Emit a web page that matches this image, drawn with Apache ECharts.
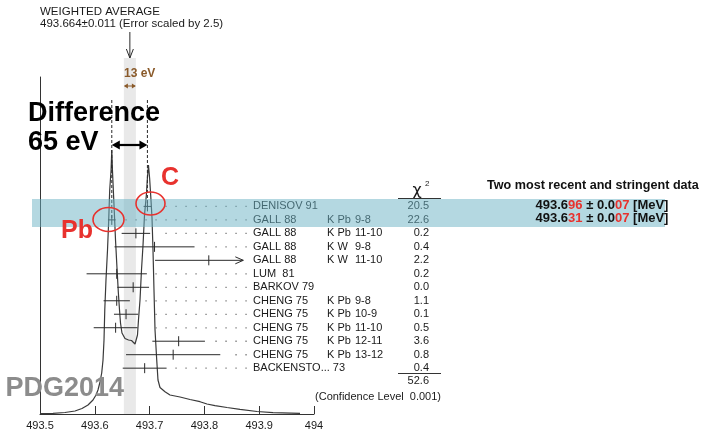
<!DOCTYPE html>
<html><head><meta charset="utf-8">
<script src="https://cdn.jsdelivr.net/npm/echarts@6/dist/echarts.min.js"></script>
<style>html,body{margin:0;padding:0;background:#fff}#c{width:701px;height:432px}</style>
</head><body><div id="c"></div>
<script>
// ---------- data ----------
const names = ['DENISOV 91','GALL 88','GALL 88','GALL 88','GALL 88','LUM  81','BARKOV 79','CHENG 75','CHENG 75','CHENG 75','CHENG 75','CHENG 75','BACKENSTO... 73'];
const targets = ['','K Pb','K Pb','K W','K W','','','K Pb','K Pb','K Pb','K Pb','K Pb',''];
const transitions = ['','9-8','11-10','9-8','11-10','','','9-8','10-9','11-10','12-11','13-12',''];
const values = [493.696, 493.631, 493.675, 493.709, 493.808, 493.640, 493.670, 493.640, 493.657, 493.638, 493.753, 493.743, 493.691];
const errors = [0.007, 0.007, 0.026, 0.073, 0.098, 0.055, 0.029, 0.024, 0.022, 0.040, 0.048, 0.086, 0.040];
const arrowTo = [null, null, null, null, 493.871, null, null, null, null, null, null, null, null];
const chi2 = ['20.5','22.6','0.2','0.4','2.2','0.2','0.0','1.1','0.1','0.5','3.6','0.8','0.4'];
const chi2Total = '52.6';
const confidenceLevel = '0.001';
const stringent = [0, 1];
const weightedAvg = 493.664;
const weightedErr = 0.011;
const xTickLabels = ['493.5','493.6','493.7','493.8','493.9','494'];
// ideogram curve (mass in MeV, relative density)
const ideoMass = [493.5000,493.5237,493.5456,493.5639,493.5766,493.5876,493.5967,493.6022,493.6058,493.6095,493.6126,493.6150,493.6168,493.6182,493.6204,493.6232,493.6254,493.6272,493.6297,493.6310,493.6322,493.6338,493.6356,493.6378,493.6405,493.6429,493.6451,493.6469,493.6496,493.6551,493.6615,493.6670,493.6706,493.6734,493.6752,493.6766,493.6779,493.6797,493.6825,493.6852,493.6880,493.6907,493.6941,493.6960,493.6979,493.7000,493.7022,493.7044,493.7062,493.7080,493.7099,493.7130,493.7153,493.7190,493.7281,493.7372,493.7555,493.7737,493.7920,493.8047,493.8193,493.8412,493.8650,493.8960,493.9252,493.9745];
const ideoDensity = [0.12,0.21,0.45,0.89,1.63,2.67,4.15,5.64,7.12,9.50,12.17,16.02,21.96,30.86,39.76,48.66,57.57,66.47,72.40,78.34,72.40,66.47,59.94,51.63,43.32,36.20,30.86,27.00,24.04,22.40,21.96,21.81,21.36,20.77,20.47,21.07,23.44,27.89,33.83,42.73,50.15,59.05,64.99,70.03,73.89,70.03,64.39,58.16,48.66,36.80,24.93,16.02,10.09,7.86,6.62,5.64,5.04,4.30,3.65,2.97,2.46,1.93,1.39,0.74,0.39,0.21,0.09];
</script>
<script>
const FONT = "'Liberation Sans', Arial, Helvetica, sans-serif";
const NAME_X = 253, TARGET_X = 327, TRANS_X = 355, CHI_X = 429, LEADER_END = 246, DASH_TOP = 100;
const INK = '#2a2a2a';

function rowItem(params, api) {
  const i = params.dataIndex;
  const p = api.coord([values[i], i]);
  const y = p[1];
  const lo = api.coord([values[i] - errors[i], i])[0];
  const hiTrue = api.coord([values[i] + errors[i], i])[0];
  const hi = arrowTo[i] != null ? api.coord([arrowTo[i], i])[0] : hiTrue;
  const ls = { stroke: INK, lineWidth: 1 };
  const ch = [];
  ch.push({ type: 'line', shape: { x1: lo, y1: y, x2: hi, y2: y }, style: ls });
  ch.push({ type: 'line', shape: { x1: p[0], y1: y - 5, x2: p[0], y2: y + 5 }, style: ls });
  if (arrowTo[i] != null) {
    ch.push({ type: 'polyline', shape: { points: [[hi - 8, y - 3.5], [hi, y], [hi - 8, y + 3.5]] }, style: { stroke: INK, fill: 'none', lineWidth: 1 } });
  } else {
    for (let x = LEADER_END; x > hiTrue + 9; x -= 10) {
      ch.push({ type: 'rect', shape: { x: x - 0.6, y: y - 0.6, width: 1.3, height: 1.3 }, style: { fill: '#777' } });
    }
  }
  if (stringent.indexOf(i) >= 0) {
    ch.push({ type: 'line', shape: { x1: p[0], y1: DASH_TOP, x2: p[0], y2: y }, style: { stroke: INK, lineWidth: 1, lineDash: [3, 2] } });
  }
  const txt = (t, x, align) => ({ type: 'text', style: { text: t, x: x, y: y, fill: '#1a1a1a', font: '11px ' + FONT, textAlign: align, align: align, textVerticalAlign: 'middle', verticalAlign: 'middle' } });
  ch.push(txt(names[i], NAME_X, 'left'));
  if (targets[i]) ch.push(txt(targets[i], TARGET_X, 'left'));
  if (transitions[i]) ch.push(txt(transitions[i], TRANS_X, 'left'));
  ch.push(txt(chi2[i], CHI_X, 'right'));
  return { type: 'group', children: ch };
}

function annotItem(params, api) {
  const a = api.coord([weightedAvg - weightedErr, 0]);
  const b = api.coord([weightedAvg + weightedErr, 0]);
  const c = api.coord([weightedAvg, 0]);
  const ch = [];
  ch.push({ type: 'rect', shape: { x: a[0], y: 58, width: b[0] - a[0], height: a[1] - 58 }, style: { fill: '#e9e9e9' } });
  ch.push({ type: 'line', shape: { x1: c[0], y1: 32, x2: c[0], y2: 58 }, style: { stroke: INK, lineWidth: 1 } });
  ch.push({ type: 'polyline', shape: { points: [[c[0] - 3.5, 49], [c[0], 58], [c[0] + 3.5, 49]] }, style: { stroke: INK, fill: 'none', lineWidth: 1 } });
  const brown = '#8a5a2a';
  ch.push({ type: 'line', shape: { x1: a[0] + 1, y1: 86, x2: b[0] - 1, y2: 86 }, style: { stroke: brown, lineWidth: 1 } });
  ch.push({ type: 'polygon', shape: { points: [[a[0], 86], [a[0] + 4, 83.5], [a[0] + 4, 88.5]] }, style: { fill: brown } });
  ch.push({ type: 'polygon', shape: { points: [[b[0], 86], [b[0] - 4, 83.5], [b[0] - 4, 88.5]] }, style: { fill: brown } });
  const p1 = api.coord([values[1], 0])[0];
  const p0 = api.coord([values[0], 0])[0];
  ch.push({ type: 'line', shape: { x1: p1 + 4, y1: 145, x2: p0 - 4, y2: 145 }, style: { stroke: '#000', lineWidth: 2.2 } });
  ch.push({ type: 'polygon', shape: { points: [[p1, 145], [p1 + 8, 140.5], [p1 + 8, 149.5]] }, style: { fill: '#000' } });
  ch.push({ type: 'polygon', shape: { points: [[p0, 145], [p0 - 8, 140.5], [p0 - 8, 149.5]] }, style: { fill: '#000' } });
  return { type: 'group', children: ch };
}

const chart = echarts.init(document.getElementById('c'));
const T = (text, x, y, font, fill, align, z) => ({
  type: 'text', z: z || 20,
  style: { text: text, x: x, y: y, font: font, fill: fill || '#1a1a1a', textAlign: align || 'left', align: align || 'left', textVerticalAlign: 'middle', verticalAlign: 'middle' }
});

const richVal = (a, r1, b, r2, c) => ({
  text: '{k|' + a + '}{r|' + r1 + '}{k|' + b + '}{r|' + r2 + '}{k|' + c + '}',
  rich: { k: { font: 'bold 13px ' + FONT, fill: '#111', color: '#111' }, r: { font: 'bold 13px ' + FONT, fill: '#e8322e', color: '#e8322e' } }
});

chart.setOption({
  animation: false,
  grid: { left: 40, right: 387, top: 77, bottom: 18, containLabel: false },
  xAxis: [{
    type: 'value', min: 493.5, max: 494, interval: 0.1,
    axisLine: { show: true, lineStyle: { color: '#333', width: 1 } },
    axisTick: { show: true, inside: true, length: 8, lineStyle: { color: '#333' } },
    axisLabel: { margin: 6, color: '#1a1a1a', fontSize: 11, fontFamily: FONT,
      formatter: v => xTickLabels[Math.round((v - 493.5) * 10)] || '' },
    splitLine: { show: false }
  }],
  yAxis: [
    { type: 'value', min: 0, max: 100, axisLine: { show: true, lineStyle: { color: '#333', width: 1 } },
      axisTick: { show: false }, axisLabel: { show: false }, splitLine: { show: false } },
    { type: 'value', min: -9.6, max: 15.4, inverse: true, show: false, splitLine: { show: false } }
  ],
  series: [
    { type: 'custom', name: 'avg', xAxisIndex: 0, yAxisIndex: 0, z: 1, data: [[weightedAvg, 0]], renderItem: annotItem, silent: true },
    { type: 'line', name: 'ideogram', xAxisIndex: 0, yAxisIndex: 0, z: 3, showSymbol: false, symbol: 'none', clip: false,
      data: ideoMass.map((m, k) => [m, ideoDensity[k]]),
      lineStyle: { color: '#3a3a3a', width: 1.2 } },
    { type: 'custom', name: 'rows', xAxisIndex: 0, yAxisIndex: 1, z: 4, data: values.map((v, i) => [v, i]), renderItem: rowItem, silent: true }
  ],
  graphic: [
    T('WEIGHTED AVERAGE', 40, 12, '11.5px ' + FONT, '#1a1a1a', 'left'),
    T('493.664\u00b10.011 (Error scaled by 2.5)', 40, 24, '11.5px ' + FONT, '#1a1a1a', 'left'),
    T('13 eV', 124, 74, 'bold 12px ' + FONT, '#8a5a2a', 'left'),
    T('Difference', 28, 114, 'bold 27px ' + FONT, '#000', 'left'),
    T('65 eV', 28, 143, 'bold 27px ' + FONT, '#000', 'left'),
    T('PDG2014', 124, 389, 'bold 27px ' + FONT, '#8c8c8c', 'right'),
    T('\u03c7', 417, 191, '16px "DejaVu Sans", sans-serif', '#1a1a1a', 'center'),
    T('2', 425, 184, '8px ' + FONT, '#1a1a1a', 'left'),
    { type: 'line', z: 20, shape: { x1: 398, y1: 198.5, x2: 441, y2: 198.5 }, style: { stroke: '#333', lineWidth: 1 } },
    { type: 'line', z: 20, shape: { x1: 398, y1: 373.5, x2: 441, y2: 373.5 }, style: { stroke: '#333', lineWidth: 1 } },
    T(chi2Total, 429, 381, '11px ' + FONT, '#1a1a1a', 'right'),
    T('(Confidence Level  ' + confidenceLevel + ')', 441, 397, '11px ' + FONT, '#1a1a1a', 'right'),
    { type: 'rect', z: 10, shape: { x: 32, y: 199, width: 633, height: 28 }, style: { fill: 'rgba(105,178,196,0.5)' } },
    T('Two most recent and stringent data', 487, 186, 'bold 12.6px ' + FONT, '#111', 'left'),
    { type: 'text', z: 20, style: Object.assign({ x: 602, y: 205, textAlign: 'center', align: 'center', textVerticalAlign: 'middle', verticalAlign: 'middle' }, richVal('493.6', '96', ' \u00b1 0.0', '07', ' [MeV]')) },
    { type: 'text', z: 20, style: Object.assign({ x: 602, y: 218, textAlign: 'center', align: 'center', textVerticalAlign: 'middle', verticalAlign: 'middle' }, richVal('493.6', '31', ' \u00b1 0.0', '07', ' [MeV]')) },
    { type: 'ellipse', z: 21, shape: { cx: 150.5, cy: 203.5, rx: 14.5, ry: 11.5 }, style: { stroke: '#e8322e', fill: 'none', lineWidth: 1.6 } },
    { type: 'ellipse', z: 21, shape: { cx: 108.5, cy: 219.5, rx: 15.5, ry: 12 }, style: { stroke: '#e8322e', fill: 'none', lineWidth: 1.6 } },
    T('C', 170, 178, 'bold 25px ' + FONT, '#e8322e', 'center', 21),
    T('Pb', 77, 231, 'bold 25px ' + FONT, '#e8322e', 'center', 21)
  ]
});
</script>
</body></html>
